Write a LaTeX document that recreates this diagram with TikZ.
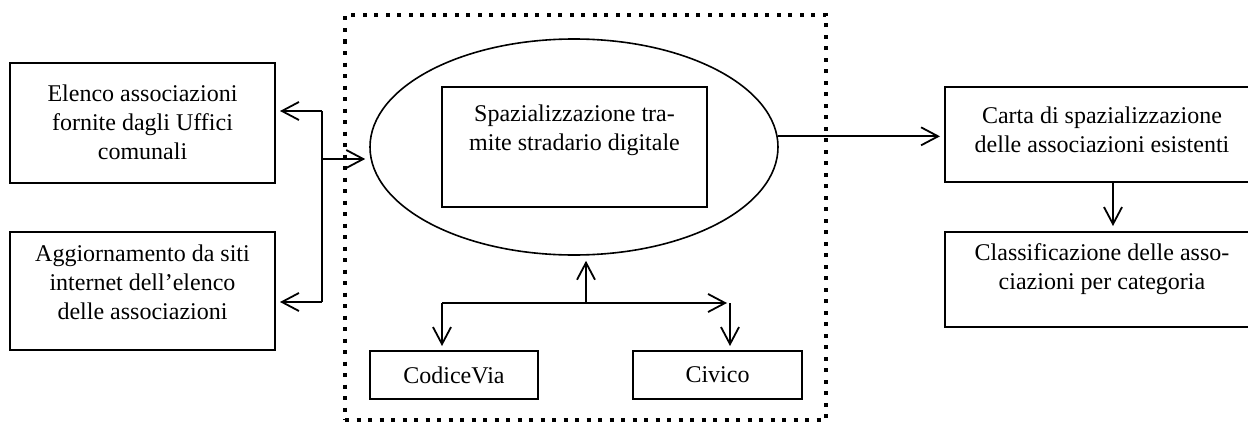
\documentclass[tikz,border=0pt]{standalone}
\usepackage{fontspec}
\setmainfont{Liberation Serif}
\usetikzlibrary{shapes.geometric,arrows.meta}
\tikzset{
  box/.style={draw, line width=1pt, inner sep=0pt},
  txt/.style={align=center, inner sep=0pt, font=\fontsize{12}{14.5}\selectfont},
  smallbox/.style={draw, line width=1pt, inner sep=0pt, font=\fontsize{12}{14.5}\selectfont},
  conn/.style={line width=0.9pt},
  arr/.style={line width=0.9pt, -{Straight Barb[length=8.5pt,width=9pt,line width=0.9pt]}},
  frame/.style={draw, line width=2pt, dash pattern=on 2pt off 3.75pt, inner sep=0pt},
  ovale/.style={draw, ellipse, line width=0.8pt, inner sep=0pt}
}
\begin{document}
\begin{tikzpicture}[x=0.5pt,y=-0.5pt]
\useasboundingbox (0,0) rectangle (1248,423);
% left boxes
\node[box, minimum width=132.5pt, minimum height=60pt] (b1) at (142.5,123) {};
\node[txt] (t1) at (142.5,122) {Elenco associazioni\\fornite dagli Uffici\\comunali};
\node[box, minimum width=132.5pt, minimum height=59pt] (b2) at (142.5,291) {};
\node[txt] (t2) at (142.5,282) {Aggiornamento da siti\\internet dell’elenco\\delle associazioni};
% dotted frame
\node[frame, minimum width=240.5pt, minimum height=202.5pt] (fr) at (585.5,217.5) {};
% ellipse and inner box
\node[ovale, minimum width=204pt, minimum height=108pt] (ell) at (574,147) {};
\node[box, minimum width=132.5pt, minimum height=60pt] (r) at (574.5,147) {};
\node[txt] (rt) at (574.5,130) {Spazializzazione tra-\\mite stradario digitale};
% bottom boxes
\node[smallbox, minimum width=84pt, minimum height=24pt] (cv) at (454,375) {CodiceVia};
\node[smallbox, minimum width=84.5pt, minimum height=24pt] (civ) at (717.5,375) {Civico};
% right boxes
\node[box, minimum width=157pt, minimum height=47.5pt] (b3) at (1102,134.5) {};
\node[txt] (t3) at (1102,130) {Carta di spazializzazione\\delle associazioni esistenti};
\node[box, minimum width=157pt, minimum height=47.5pt] (b4) at (1102,279.5) {};
\node[txt] (t4) at (1102,269) {Classificazione delle asso-\\ciazioni per categoria};
% left connectors
\coordinate (L1) at (322,111);
\coordinate (L2) at (322,302);
\coordinate (L0) at (322,159);
\draw[conn] (L1) -- (L2);
\draw[arr, shorten >=2pt] (L1) -- (b1.east |- L1);
\draw[arr, shorten >=2pt] (L2) -- (b2.east |- L2);
\draw[arr, shorten >=2pt] (L0) -- (ell.west |- L0);
% bottom connectors
\coordinate (B0) at (586,303);
\coordinate (BL) at (442,303);
\coordinate (BR) at (727,303);
\coordinate (BR2) at (730,303);
\draw[arr, shorten >=2.5pt] (B0) -- (B0 |- ell.south);
\draw[arr] (BL) -- (BR);
\draw[arr, shorten >=2pt] (BL) -- (cv.north -| BL);
\draw[arr, shorten >=2pt] (BR2) -- (civ.north -| BR2);
% right connectors
\draw[arr, shorten >=2pt] (ell.3) -- (b3.west |- ell.3);
\coordinate (R1) at (1113,0);
\draw[arr, shorten >=2.5pt] (b3.south -| R1) -- (b4.north -| R1);
\end{tikzpicture}
\end{document}
